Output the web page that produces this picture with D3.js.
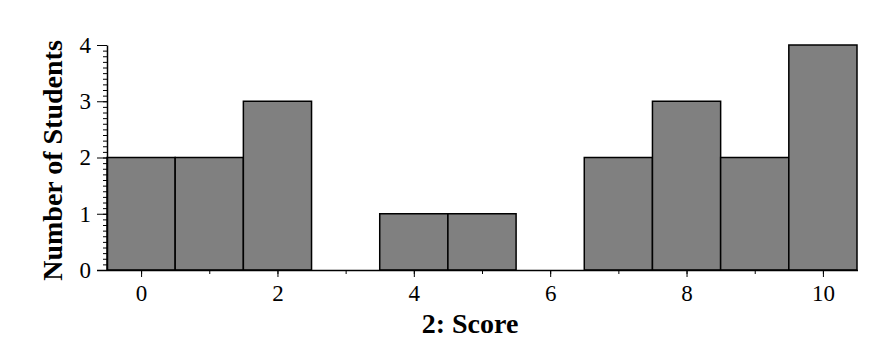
<!DOCTYPE html>
<html>
<head>
<meta charset="utf-8">
<script src="https://cdn.jsdelivr.net/npm/d3@7"></script>
<style>
    body { margin: 0; background: #fff; }
    text { font-family: "Liberation Serif", "Times New Roman", serif; }
</style>
</head>
<body>
<script>
const scores = [0, 1, 2, 3, 4, 5, 6, 7, 8, 9, 10];
const counts = [2, 2, 3, 0, 1, 1, 0, 2, 3, 2, 4];
const xTickLabels = [0, 2, 4, 6, 8, 10];
const yTickLabels = [0, 1, 2, 3, 4];
const xTitle = '2: Score';
const yTitle = 'Number of Students';

const width = 890, height = 353;
const margin = {top: 45, right: 33, bottom: 83, left: 107};
const w = width - margin.left - margin.right;
const h = height - margin.top - margin.bottom;

const svg = d3.select('body').append('svg')
    .attr('width', width)
    .attr('height', height);

const g = svg.append('g')
    .attr('transform', `translate(${margin.left},${margin.top})`);

const x = d3.scaleLinear().domain([-0.5, 10.5]).range([0, w]);
const y = d3.scaleLinear().domain([0, 4]).range([h, 0]);

//bars
g.selectAll('rect.bar')
    .data(scores)
    .enter().append('rect')
    .attr('class', 'bar')
    .attr('x', d => x(d - 0.5))
    .attr('y', (d, i) => y(counts[i]))
    .attr('width', x(0.5) - x(-0.5))
    .attr('height', (d, i) => h - y(counts[i]))
    .attr('fill', '#808080')
    .attr('stroke', '#000')
    .attr('stroke-width', 1.5);

//x axis minor ticks
g.append('g')
    .attr('transform', `translate(0,${h})`)
    .call(d3.axisBottom(x).tickValues(scores).tickSize(4).tickFormat(''))
    .call(a => a.select('.domain').remove());

//x axis major
g.append('g')
    .attr('transform', `translate(0,${h})`)
    .call(d3.axisBottom(x).tickValues(xTickLabels).tickSize(7).tickSizeOuter(0)
        .tickPadding(8).tickFormat(d3.format('d')))
    .call(a => a.select('.domain').attr('d', `M${-10},0.5H${w + 1}`).attr('stroke-width', 1.5))
    .call(a => a.selectAll('text').style('font-size', '23px').attr('fill', '#000'));

//y axis minor ticks
g.append('g')
    .call(d3.axisLeft(y).tickValues(d3.range(0, 40).map(i => i / 10)).tickSize(4).tickFormat(''))
    .call(a => a.select('.domain').remove());

//y axis major
g.append('g')
    .call(d3.axisLeft(y).tickValues(yTickLabels).tickSize(10).tickSizeOuter(0)
        .tickPadding(6).tickFormat(d3.format('d')))
    .call(a => a.select('.domain').attr('stroke-width', 1.5))
    .call(a => a.selectAll('text').style('font-size', '23px').attr('fill', '#000'));

//titles
svg.append('text')
    .attr('x', 470)
    .attr('y', 333)
    .attr('text-anchor', 'middle')
    .style('font-size', '28px')
    .attr('font-weight', 'bold')
    .text(xTitle);

svg.append('text')
    .attr('transform', `translate(62,${margin.top + h / 2 + 3}) rotate(-90)`)
    .attr('text-anchor', 'middle')
    .style('font-size', '28px')
    .attr('font-weight', 'bold')
    .text(yTitle);
</script>
</body>
</html>
